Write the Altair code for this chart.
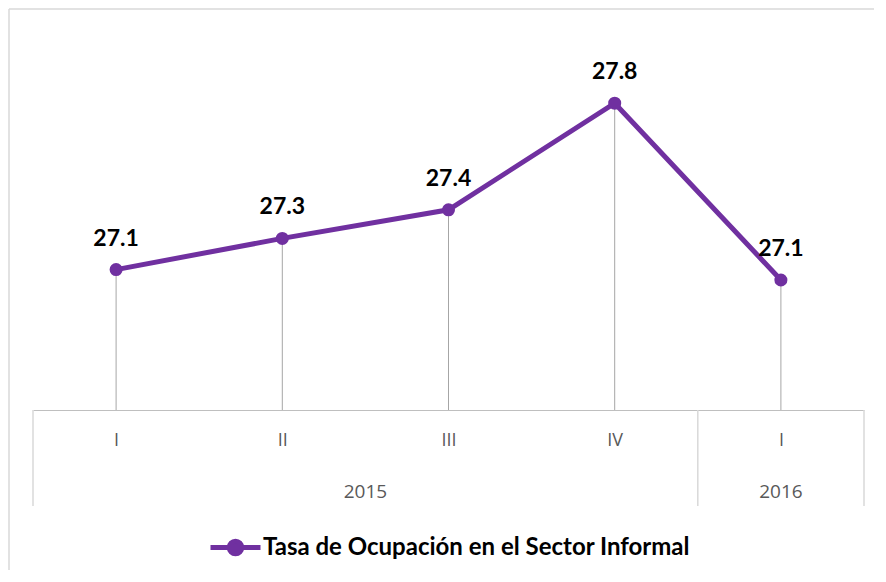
import json
import altair as alt
import pandas as pd

# ---- data ----
quarters = ["I", "II", "III", "IV", "I"]
years = ["2015", "2015", "2015", "2015", "2016"]
values = [27.14, 27.26, 27.37, 27.78, 27.10]
labels = ["27.1", "27.3", "27.4", "27.8", "27.1"]
year_names = ["2015", "2016"]
year_centers = [1.5, 4.0]
separators = [-0.5, 3.5, 4.5]
series_name = "Tasa de Ocupación en el Sector Informal"

PURPLE = "#7030A0"

df = pd.DataFrame({
    "idx": list(range(len(quarters))),
    "quarter": quarters,
    "year": years,
    "value": values,
    "label": labels,
    "series": [series_name] * len(quarters),
})
df_years = pd.DataFrame({"idx": year_centers, "year": year_names})
df_sep = pd.DataFrame({"idx": separators})
df_frame = pd.DataFrame({"k": [0]})

x_enc = alt.X(
    "idx:Q",
    scale=alt.Scale(domain=[-0.5, 4.5], nice=False, zero=False),
    axis=alt.Axis(
        values=list(range(len(quarters))),
        labelExpr=json.dumps(quarters) + "[datum.value]",
        ticks=False,
        tickSize=0,
        grid=False,
        domainColor="#bfbfbf",
        domainWidth=1,
        labelPadding=21,
        labelFont="Open Sans",
        labelFontSize=18,
        labelFontWeight="normal",
        labelColor="#595959",
        title=None,
    ),
)
y_enc = alt.Y(
    "value:Q",
    scale=alt.Scale(domain=[26.6, 28.0], nice=False, zero=False),
    axis=None,
)

drops = alt.Chart(df).mark_rule(color="#a6a6a6", strokeWidth=1).encode(
    x=x_enc, y=y_enc, y2=alt.datum(26.6)
)

line = alt.Chart(df).mark_line(color=PURPLE, strokeWidth=5).encode(x=x_enc, y=y_enc)

legend_path = (
    "M-1,0L1,0M-0.25,0A0.25,0.25,0,1,1,0.25,0A0.25,0.25,0,1,1,-0.25,0Z"
)

points = alt.Chart(df).mark_point(filled=True, size=170, opacity=1).encode(
    x=x_enc,
    y=y_enc,
    color=alt.Color(
        "series:N",
        scale=alt.Scale(range=[PURPLE]),
        legend=alt.Legend(
            title=None,
            orient="none",
            legendX=175,
            legendY=474,
            symbolType=legend_path,
            symbolSize=2500,
            symbolFillColor=PURPLE,
            symbolStrokeColor=PURPLE,
            symbolStrokeWidth=5,
            symbolOpacity=1,
            labelFont="Lato",
            labelFontSize=24,
            labelFontWeight="bold",
            labelColor="black",
            labelOffset=0,
            labelLimit=800,
            padding=0,
        ),
    ),
)

text = alt.Chart(df).mark_text(
    dy=-31, fontSize=23, fontWeight="bold", font="Lato", color="black"
).encode(x=x_enc, y=y_enc, text="label:N")

year_text = alt.Chart(df_years).mark_text(
    fontSize=19, font="Open Sans", fontWeight="normal", color="#595959"
).encode(x=x_enc, y=alt.value(446), text="year:N")

seps = alt.Chart(df_sep).mark_rule(color="#d9d9d9", strokeWidth=1.5).encode(
    x=x_enc, y=alt.value(364), y2=alt.value(460)
)

frame_left = alt.Chart(df_frame).mark_rule(color="#d9d9d9", strokeWidth=1.5).encode(
    x=alt.value(-24), y=alt.value(-37), y2=alt.value(530)
)
frame_top = alt.Chart(df_frame).mark_rule(color="#d9d9d9", strokeWidth=1.5).encode(
    x=alt.value(-24), x2=alt.value(850), y=alt.value(-37)
)

chart = (
    alt.layer(frame_left, frame_top, seps, drops, line, points, text, year_text)
    .properties(
        width=831,
        height=364,
        autosize=alt.AutoSizeParams(type="none"),
        padding={"left": 25, "top": 38, "right": 10, "bottom": 160},
    )
    .configure_view(strokeWidth=0)
)

chart.save("out.html", embed_options={"renderer": "svg", "actions": False})
